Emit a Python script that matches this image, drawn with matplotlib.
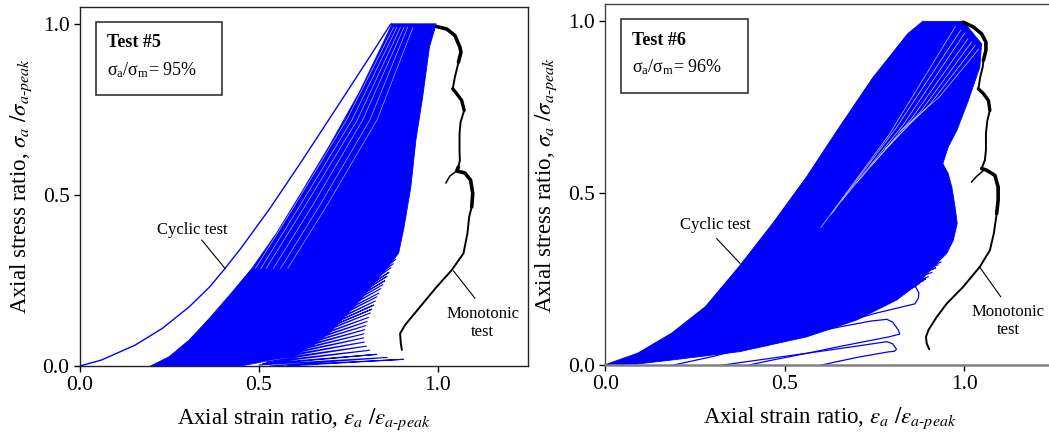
import matplotlib
matplotlib.use('Agg')
import matplotlib.pyplot as plt
from matplotlib.patches import Polygon, Rectangle

plt.rcParams['font.family'] = ['Liberation Serif', 'DejaVu Serif']
plt.rcParams['mathtext.fontset'] = 'stix'

BLUE = '#0000ff'

# ---------------- Test #5 ----------------
# first loading branch
t5_first_x = [0.0, 0.06, 0.154, 0.23, 0.305, 0.362, 0.405, 0.45, 0.53, 0.62, 0.72, 0.81, 0.867, 0.87]
t5_first_y = [0.0, 0.0175, 0.061, 0.11, 0.173, 0.231, 0.285, 0.345, 0.46, 0.60, 0.76, 0.905, 0.998, 1.0]
# outline of the dense band of loading cycles
t5_band_x = [0.197, 0.249, 0.305, 0.362, 0.42, 0.48, 0.55, 0.62, 0.70, 0.78, 0.84, 0.872,
             0.995, 0.976, 0.957, 0.938, 0.924, 0.905, 0.89, 0.86, 0.82, 0.78, 0.74, 0.70,
             0.65, 0.58, 0.50, 0.45]
t5_band_y = [0.0, 0.027, 0.076, 0.140, 0.21, 0.285, 0.39, 0.51, 0.65, 0.80, 0.93, 1.0,
             1.0, 0.932, 0.786, 0.659, 0.523, 0.406, 0.33, 0.29, 0.24, 0.19, 0.145, 0.10,
             0.06, 0.03, 0.01, 0.0]
# last cycles sticking out of the band (tips and roots)
t5_tip_x = [0.882, 0.875, 0.868, 0.863, 0.857, 0.851, 0.846, 0.84, 0.835, 0.829, 0.825, 0.82,
            0.815, 0.811, 0.806, 0.802, 0.798, 0.795, 0.793, 0.792, 0.794, 0.80, 0.809, 0.828,
            0.858, 0.903]
t5_tip_y = [0.312, 0.299, 0.287, 0.274, 0.262, 0.249, 0.238, 0.226, 0.213, 0.202, 0.19, 0.178,
            0.166, 0.155, 0.142, 0.13, 0.118, 0.106, 0.094, 0.082, 0.07, 0.058, 0.046, 0.034,
            0.025, 0.0195]
t5_root_x = [0.75, 0.74, 0.72, 0.71, 0.70, 0.69, 0.675, 0.67, 0.66, 0.645, 0.64, 0.63, 0.62,
             0.61, 0.60, 0.59, 0.58, 0.57, 0.56, 0.55, 0.54, 0.53, 0.52, 0.51, 0.50, 0.53, 0.58]
t5_root_y = [0.205, 0.19, 0.18, 0.168, 0.16, 0.15, 0.138, 0.13, 0.12, 0.108, 0.10, 0.09, 0.082,
             0.074, 0.066, 0.058, 0.05, 0.043, 0.036, 0.03, 0.024, 0.018, 0.012, 0.007, 0.003,
             0.0, 0.0]
# white gaps between successive reloading curves in the upper band
t5_gap_x = [[0.49, 0.60, 0.745, 0.876], [0.505, 0.615, 0.76, 0.885], [0.52, 0.63, 0.775, 0.895],
            [0.54, 0.65, 0.79, 0.905], [0.56, 0.67, 0.81, 0.915], [0.58, 0.69, 0.83, 0.93]]
t5_gap_y = [[0.285, 0.47, 0.72, 0.99], [0.285, 0.47, 0.72, 0.99], [0.285, 0.47, 0.72, 0.99],
            [0.285, 0.47, 0.72, 0.99], [0.285, 0.47, 0.72, 0.99], [0.285, 0.47, 0.72, 0.99]]
# monotonic test
t5_mono_x = [0.996, 1.024, 1.047, 1.061, 1.064, 1.057, 1.054, 1.047, 1.041, 1.052, 1.066, 1.073,
             1.063, 1.060, 1.060, 1.061, 1.057, 1.052, 1.075, 1.091, 1.097, 1.094, 1.087, 1.082,
             1.071, 1.038, 0.996, 0.950, 0.908, 0.894, 0.896, 0.899]
t5_mono_y = [0.992, 0.985, 0.966, 0.932, 0.917, 0.888, 0.874, 0.844, 0.810, 0.796, 0.776, 0.747,
             0.713, 0.679, 0.630, 0.601, 0.582, 0.570, 0.564, 0.543, 0.504, 0.465, 0.436, 0.387,
             0.329, 0.280, 0.231, 0.173, 0.120, 0.095, 0.066, 0.047]
t5_mono_branch_x = [1.052, 1.033, 1.022]
t5_mono_branch_y = [0.570, 0.555, 0.535]

# ---------------- Test #6 ----------------
t6_first_x = [0.0, 0.091, 0.185, 0.279, 0.373, 0.467, 0.561, 0.648, 0.745, 0.843, 0.885]
t6_first_y = [0.0, 0.034, 0.092, 0.169, 0.286, 0.412, 0.547, 0.685, 0.835, 0.964, 1.0]
t6_band_x = t6_first_x + [0.997, 1.048, 1.043, 1.011, 0.979, 0.955, 0.940, 0.955, 0.965, 0.974,
                          0.980, 0.969, 0.951, 0.923, 0.867, 0.811, 0.70, 0.561, 0.375, 0.189, 0.09]
t6_band_y = t6_first_y + [1.0, 0.935, 0.867, 0.770, 0.683, 0.635, 0.586, 0.557, 0.518, 0.460,
                          0.412, 0.363, 0.325, 0.296, 0.233, 0.189, 0.131, 0.082, 0.039, 0.015, 0.003]
t6_tip_x = [0.935, 0.927, 0.92, 0.91, 0.90, 0.892, 0.885, 0.876, 0.868, 0.858, 0.848]
t6_tip_y = [0.30, 0.292, 0.283, 0.27, 0.257, 0.25, 0.245, 0.238, 0.232, 0.226, 0.22]
t6_root_x = [0.70, 0.68, 0.66, 0.64, 0.62, 0.60, 0.58, 0.55, 0.52, 0.49, 0.46, 0.43]
t6_root_y = [0.20, 0.185, 0.172, 0.16, 0.148, 0.136, 0.125, 0.11, 0.098, 0.086, 0.075, 0.064]
# the three low cycles drawn apart
t6_loopA_x = [0.40, 0.50, 0.62, 0.75, 0.864, 0.873, 0.872, 0.862, 0.75, 0.65, 0.55, 0.45]
t6_loopA_y = [0.065, 0.10, 0.148, 0.198, 0.228, 0.21, 0.195, 0.178, 0.15, 0.12, 0.088, 0.058]
t6_loopB_x = [0.19, 0.30, 0.468, 0.653, 0.74, 0.784, 0.80, 0.816, 0.820, 0.79, 0.653, 0.561, 0.468, 0.40]
t6_loopB_y = [0.0, 0.025, 0.07, 0.111, 0.128, 0.133, 0.125, 0.102, 0.090, 0.082, 0.054, 0.034, 0.015, 0.0]
t6_loopC_x = [0.328, 0.45, 0.60, 0.72, 0.784, 0.80, 0.811, 0.805, 0.787, 0.70, 0.602]
t6_loopC_y = [0.0, 0.018, 0.040, 0.058, 0.068, 0.062, 0.046, 0.040, 0.038, 0.022, 0.0]
# white gaps in the fan of late cycles near the peak
t6_gap_x = [[0.60, 0.79, 0.975], [0.63, 0.81, 0.99], [0.66, 0.83, 1.0], [0.70, 0.855, 1.01],
            [0.74, 0.88, 1.02], [0.78, 0.905, 1.03], [0.82, 0.93, 1.04]]
t6_gap_y = [[0.40, 0.67, 0.985], [0.44, 0.69, 0.975], [0.48, 0.70, 0.965], [0.53, 0.72, 0.95],
            [0.58, 0.74, 0.94], [0.63, 0.76, 0.93], [0.68, 0.78, 0.92]]
t6_mono_x = [0.997, 1.025, 1.048, 1.060, 1.060, 1.053, 1.051, 1.044, 1.039, 1.053, 1.067, 1.071,
             1.064, 1.060, 1.060, 1.057, 1.048, 1.062, 1.085, 1.094, 1.094, 1.090, 1.082, 1.071,
             1.043, 0.997, 0.951, 0.923, 0.900, 0.893, 0.895, 0.902]
t6_mono_y = [0.998, 0.984, 0.964, 0.940, 0.916, 0.887, 0.867, 0.838, 0.804, 0.790, 0.770, 0.741,
             0.712, 0.674, 0.625, 0.596, 0.572, 0.567, 0.552, 0.518, 0.480, 0.441, 0.383, 0.334,
             0.286, 0.228, 0.179, 0.140, 0.102, 0.082, 0.063, 0.046]
t6_mono_branch_x = [1.055, 1.035, 1.020]
t6_mono_branch_y = [0.568, 0.550, 0.533]

xticks = [0.0, 0.5, 1.0]
yticks = [0.0, 0.5, 1.0]


def zigzag(roots_x, roots_y, tips_x, tips_y):
    xs, ys = [], []
    for i in range(len(tips_x)):
        xs += [roots_x[i], tips_x[i]]
        ys += [roots_y[i], tips_y[i]]
    xs.append(roots_x[-1])
    ys.append(roots_y[-1])
    return xs, ys


def draw_mono(ax, mx, my, bx, by):
    ax.plot(mx, my, color='black', lw=1.4, solid_capstyle='round')
    # thicker stretches (overlapping records) at the peak and the humps
    ax.plot(mx[:6], my[:6], color='black', lw=2.6, solid_capstyle='round')
    ax.plot(mx[8:12], my[8:12], color='black', lw=2.4, solid_capstyle='round')
    ax.plot(mx[16:22], my[16:22], color='black', lw=2.6, solid_capstyle='round')
    ax.plot(bx, by, color='black', lw=1.1)


def setup(ax, test, ratio):
    ax.set_xlim(0, 1.25)
    ax.set_ylim(0, 1.05)
    ax.set_xticks(xticks)
    ax.set_yticks(yticks)
    ax.set_xticklabels(['%.1f' % v for v in xticks])
    ax.set_yticklabels(['%.1f' % v for v in yticks])
    ax.tick_params(direction='out', length=4.5, width=1, labelsize=15.5, pad=3)
    ax.set_xlabel(r'Axial strain ratio, $\varepsilon_a\ /\varepsilon_{a\text{-}peak}$', fontsize=16.5)
    ax.set_ylabel(r'Axial stress ratio, $\sigma_a\ /\sigma_{a\text{-}peak}$', fontsize=16.5)
    ax.xaxis.set_label_coords(0.5, -0.112)
    ax.yaxis.set_label_coords(-0.103, 0.5)
    ax.add_patch(Rectangle((0.044, 0.792), 0.352, 0.214, fill=False, edgecolor='#333333', lw=1.2))
    ax.text(0.075, 0.944, 'Test #%s' % test, fontsize=13, fontweight='bold', va='center')
    ax.text(0.075, 0.866, r'$\mathregular{σ_a/σ_m}$= %d%%' % ratio, fontsize=13, va='center')


fig = plt.figure(figsize=(10.49, 4.41), dpi=100)
ax1 = fig.add_axes([0.0763, 0.1701, 0.4266, 0.8147])
ax2 = fig.add_axes([0.5771, 0.1723, 0.4278, 0.8179])

# Test #5
ax1.add_patch(Polygon(list(zip(t5_band_x, t5_band_y)), closed=True, facecolor=BLUE, edgecolor=BLUE, lw=0.6))
for gx, gy in zip(t5_gap_x, t5_gap_y):
    ax1.plot(gx, gy, color='white', lw=0.45, alpha=0.75)
fx, fy = zigzag(t5_root_x, t5_root_y, t5_tip_x, t5_tip_y)
ax1.plot(fx, fy, color=BLUE, lw=0.8)
ax1.plot(t5_first_x, t5_first_y, color=BLUE, lw=1.0)
draw_mono(ax1, t5_mono_x, t5_mono_y, t5_mono_branch_x, t5_mono_branch_y)
setup(ax1, '5', 95)
ax1.plot([0.340, 0.405], [0.368, 0.285], color='black', lw=0.8)
ax1.text(0.315, 0.397, 'Cyclic test', fontsize=12, ha='center', va='center')
ax1.plot([1.103, 1.043], [0.198, 0.278], color='black', lw=0.8)
ax1.text(1.125, 0.126, 'Monotonic\ntest', fontsize=12, ha='center', va='center', linespacing=1.15)
for s in ax1.spines.values():
    s.set_color('#222222')
    s.set_linewidth(1.0)

# Test #6
ax2.add_patch(Polygon(list(zip(t6_band_x, t6_band_y)), closed=True, facecolor=BLUE, edgecolor=BLUE, lw=0.6))
for gx, gy in zip(t6_gap_x, t6_gap_y):
    ax2.plot(gx, gy, color='white', lw=0.5, alpha=0.8)
fx, fy = zigzag(t6_root_x, t6_root_y, t6_tip_x, t6_tip_y)
ax2.plot(fx, fy, color=BLUE, lw=0.8)
for lx, ly in [(t6_loopA_x, t6_loopA_y), (t6_loopB_x, t6_loopB_y), (t6_loopC_x, t6_loopC_y)]:
    ax2.plot(lx, ly, color=BLUE, lw=0.9)
ax2.plot(t6_first_x, t6_first_y, color=BLUE, lw=1.0)
draw_mono(ax2, t6_mono_x, t6_mono_y, t6_mono_branch_x, t6_mono_branch_y)
setup(ax2, '6', 96)
ax2.plot([0.310, 0.375], [0.368, 0.296], color='black', lw=0.8)
ax2.text(0.305, 0.407, 'Cyclic test', fontsize=12, ha='center', va='center')
ax2.plot([1.101, 1.042], [0.199, 0.286], color='black', lw=0.8)
ax2.text(1.122, 0.127, 'Monotonic\ntest', fontsize=12, ha='center', va='center', linespacing=1.15)
for s in ax2.spines.values():
    s.set_color('#444444')
    s.set_linewidth(1.0)
ax2.spines['bottom'].set_color('#808080')
ax2.spines['bottom'].set_linewidth(1.8)

fig.savefig('out.png', dpi=100)
